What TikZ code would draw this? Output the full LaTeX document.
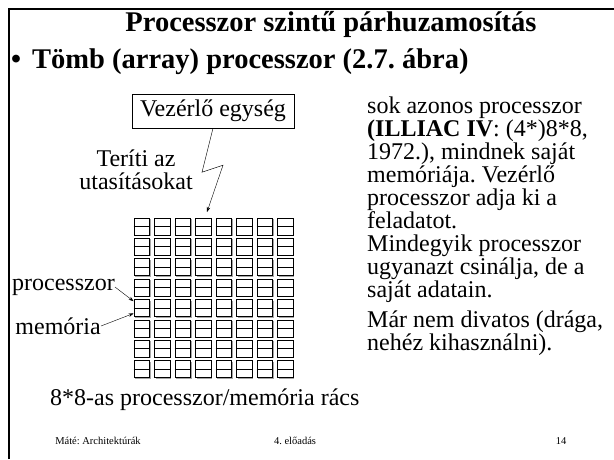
\documentclass[tikz,border=0pt]{standalone}
\usepackage{fontspec}
\setmainfont{Liberation Serif}
\frenchspacing
\usetikzlibrary{positioning,arrows.meta,shadows}

\begin{document}
\begin{tikzpicture}[x=1pt, y=-1pt,
    head/.style={font=\fontsize{28.5}{32}\selectfont\bfseries, inner sep=0pt},
    body/.style={font=\fontsize{24}{23}\selectfont, inner sep=0pt, align=left},
    ctrlbox/.style={draw, thin, minimum width=162pt, minimum height=34pt, font=\fontsize{24}{26}\selectfont},
    cell/.style={draw, line width=0.9pt, fill=white, minimum width=15.5pt, minimum height=17pt, inner sep=0pt,
      drop shadow={shadow xshift=1pt, shadow yshift=-1pt, fill=gray!70, opacity=1}},
    arr/.style={-{Stealth[length=5pt, width=3.5pt]}, thin},
    foot/.style={font=\fontsize{10.5}{12}\selectfont, inner sep=0pt}
]
\useasboundingbox (0,0) rectangle (614,459);
% Frame
\draw[line width=2.5pt] (9,459) -- (9,9) -- (614,9);
% Nodes
\node[head] (title) at (331,24) {Processzor szintű párhuzamosítás};
\node[head, anchor=west] (dot) at (11,62) {•};
\node[head, anchor=west] (topic) at (32,62) {Tömb (array) processzor (2.7. ábra)};
\node[ctrlbox] (ctrl) at (213,111) {Vezérlő egység};
\node[body, align=center] (spread) at (136,169.5) {Teríti az\\utasításokat};
% Grid of processor/memory cells
\foreach \i in {0,...,7}
  \foreach \j in {0,...,7} {
    \node[cell] (c\i\j) at ({141.75+\i*20.5},{226.5+\j*20.4}) {};
    \draw[line width=0.9pt] (c\i\j.west) -- (c\i\j.east);
  }
\coordinate (tip) at (207,212);
\node[body, anchor=east] (proc) at (115,287) {processzor};
\node[body, anchor=east] (mem) at (101,326) {memória};
\node[body, anchor=west] (caption) at (50,400) {8*8-as processzor/memória rács};
\node[body, anchor=north west] (desc) at (367,96.5) {sok azonos processzor\\
\textbf{(ILLIAC IV}: (4*)8*8,\\
1972.), mindnek saját\\
memóriája. Vezérlő\\
processzor adja ki a\\
feladatot.\\
Mindegyik processzor\\
ugyanazt csinálja, de a\\
saját adatain.};
\node[body, below right=8pt and 0pt of desc.south west] (note) {Már nem divatos (drága,\\
nehéz kihasználni).};
\node[foot] (author) at (98,441) {Máté: Architektúrák};
\node[foot] (lecture) at (295,441) {4. előadás};
\node[foot] (page) at (561,441) {14};
% Arrows
\draw[arr] (ctrl.south) -- ++(-11,44) -- ++(21,-7) -- (tip);
\draw[arr] (proc.east) -- (c04.140);
\draw[arr] (mem.east) -- (c04.213);
\end{tikzpicture}
\end{document}
